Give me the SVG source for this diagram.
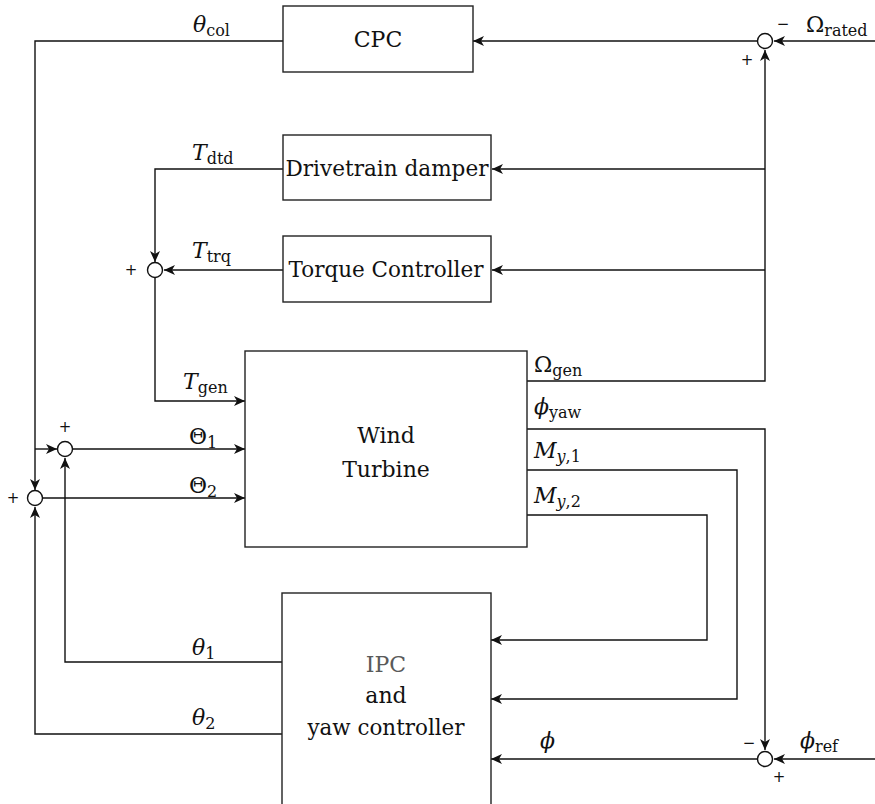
<svg xmlns="http://www.w3.org/2000/svg" width="875" height="804" viewBox="0 0 875 804">
<style>
.box{fill:#fff;stroke:#222;stroke-width:1.4}
.arr{fill:none;stroke:#111;stroke-width:1.4;marker-end:url(#ah)}
.sj{fill:#fff;stroke:#111;stroke-width:1.4}
.t{font-family:"DejaVu Serif","Liberation Serif",serif;font-size:22px;fill:#111}
.lbl{font-family:"DejaVu Serif","Liberation Serif",serif;font-size:22px;fill:#111}
.it{font-style:italic}
.sub{font-size:16px}
.sg{font-family:"DejaVu Sans","Liberation Sans",sans-serif;font-size:15px;fill:#111}
</style>
<defs>
<marker id="ah" markerUnits="userSpaceOnUse" markerWidth="14" markerHeight="12" viewBox="-12 -6 14 12" refX="0" refY="0" orient="auto">
<path d="M0,0 L-11,-5 L-8,0 L-11,5 Z" fill="#111"/>
</marker>
</defs>

<g id="connectors">
<path class="arr" d="M875,41 H774"/>
<path class="arr" d="M757,41 H473"/>
<path class="arr" d="M283,41 H35 V490"/>
<path class="arr" d="M527,381 H765 V50"/>
<path class="arr" d="M765,169 H492"/>
<path class="arr" d="M765,270 H492"/>
<path class="arr" d="M283,169 H155 V262"/>
<path class="arr" d="M283,270 H164"/>
<path class="arr" d="M155,278 V401 H245"/>
<path class="arr" d="M35,449 H57"/>
<path class="arr" d="M73,449 H245"/>
<path class="arr" d="M43,498 H245"/>
<path class="arr" d="M282,662 H65 V458"/>
<path class="arr" d="M282,734 H35 V507"/>
<path class="arr" d="M527,429 H765 V750"/>
<path class="arr" d="M527,470 H737 V699 H491"/>
<path class="arr" d="M527,515 H707 V640 H491"/>
<path class="arr" d="M875,759 H774"/>
<path class="arr" d="M757,759 H491"/>
</g>

<g id="sum_top">
<circle class="sj" cx="765" cy="41" r="7.5"/>
<text class="sg" x="783" y="29" text-anchor="middle">−</text>
<text class="sg" x="747" y="65" text-anchor="middle">+</text>
</g>
<g id="sum_torque">
<circle class="sj" cx="155" cy="270" r="7.5"/>
<text class="sg" x="131" y="275" text-anchor="middle">+</text>
</g>
<g id="sum_theta1">
<circle class="sj" cx="65" cy="449" r="7.5"/>
<text class="sg" x="65" y="432" text-anchor="middle">+</text>
</g>
<g id="sum_theta2">
<circle class="sj" cx="35" cy="498" r="7.5"/>
<text class="sg" x="13" y="503" text-anchor="middle">+</text>
</g>
<g id="sum_yaw">
<circle class="sj" cx="765" cy="759" r="7.5"/>
<text class="sg" x="749" y="748" text-anchor="middle">−</text>
<text class="sg" x="779" y="782" text-anchor="middle">+</text>
</g>

<g id="cpc">
<rect class="box" x="283" y="6" width="190" height="66"/>
<text class="t" x="378" y="47" text-anchor="middle">CPC</text>
</g>
<g id="drivetrain">
<rect class="box" x="283" y="135" width="208" height="65"/>
<text class="t" x="387" y="176" text-anchor="middle" textLength="203" lengthAdjust="spacingAndGlyphs">Drivetrain damper</text>
</g>
<g id="torque">
<rect class="box" x="283" y="236" width="208" height="66"/>
<text class="t" x="386" y="277" text-anchor="middle" textLength="195" lengthAdjust="spacingAndGlyphs">Torque Controller</text>
</g>
<g id="windturbine">
<rect class="box" x="245" y="351" width="282" height="196"/>
<text class="t" x="386" y="443" text-anchor="middle">Wind</text>
<text class="t" x="386" y="477" text-anchor="middle">Turbine</text>
</g>
<g id="ipc">
<rect class="box" x="282" y="593" width="209" height="230"/>
<text class="t" x="386" y="672" text-anchor="middle" style="fill:#5a5a5a">IPC</text>
<text class="t" x="386" y="703" text-anchor="middle">and</text>
<text class="t" x="386" y="735" text-anchor="middle" textLength="157" lengthAdjust="spacingAndGlyphs">yaw controller</text>
</g>

<g id="labels">
<text class="lbl" x="193" y="32"><tspan class="it">θ</tspan><tspan class="sub" dy="4">col</tspan></text>
<text class="lbl" x="192" y="160"><tspan class="it">T</tspan><tspan class="sub" dy="4">dtd</tspan></text>
<text class="lbl" x="192" y="258"><tspan class="it">T</tspan><tspan class="sub" dy="4">trq</tspan></text>
<text class="lbl" x="183" y="389"><tspan class="it">T</tspan><tspan class="sub" dy="4">gen</tspan></text>
<text class="lbl" x="189" y="444">Θ<tspan class="sub" dy="4">1</tspan></text>
<text class="lbl" x="189" y="493">Θ<tspan class="sub" dy="4">2</tspan></text>
<text class="lbl" x="192" y="655"><tspan class="it">θ</tspan><tspan class="sub" dy="4">1</tspan></text>
<text class="lbl" x="192" y="725"><tspan class="it">θ</tspan><tspan class="sub" dy="4">2</tspan></text>
<text class="lbl" x="534" y="372">Ω<tspan class="sub" dy="4">gen</tspan></text>
<text class="lbl" x="534" y="414"><tspan class="it">ϕ</tspan><tspan class="sub" dy="4">yaw</tspan></text>
<text class="lbl" x="534" y="458"><tspan class="it">M</tspan><tspan class="sub it" dy="4">y</tspan><tspan class="sub">,1</tspan></text>
<text class="lbl" x="534" y="503"><tspan class="it">M</tspan><tspan class="sub it" dy="4">y</tspan><tspan class="sub">,2</tspan></text>
<text class="lbl it" x="540" y="748">ϕ</text>
<text class="lbl" x="806" y="32">Ω<tspan class="sub" dy="4">rated</tspan></text>
<text class="lbl" x="800" y="748"><tspan class="it">ϕ</tspan><tspan class="sub" dy="4">ref</tspan></text>
</g>
</svg>
